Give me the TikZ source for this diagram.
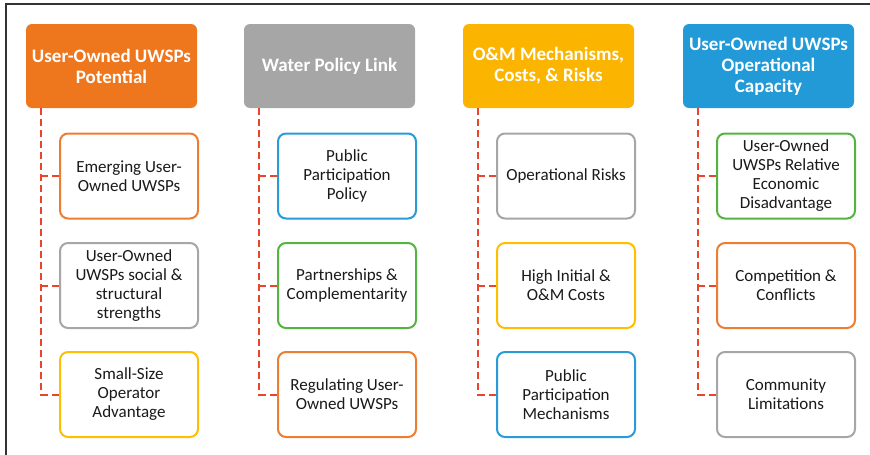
\documentclass[tikz,border=0pt]{standalone}
\usepackage{fontspec}
\setmainfont{Carlito}
\usetikzlibrary{calc}

\definecolor{cOrange}{HTML}{EE761C}
\definecolor{cOrangeLine}{HTML}{ED7D31}
\definecolor{cGray}{HTML}{A6A6A6}
\definecolor{cGold}{HTML}{FBB400}
\definecolor{cGoldLine}{HTML}{FFBE00}
\definecolor{cBlue}{HTML}{229AD8}
\definecolor{cBlueLine}{HTML}{2A9AD8}
\definecolor{cGreen}{HTML}{55B440}
\definecolor{cLink}{HTML}{E8462A}
\definecolor{cFrame}{HTML}{333333}
\definecolor{cText}{HTML}{1A1A1A}

\tikzset{
  header/.style={rectangle, rounded corners=6pt, draw=none, fill=#1,
    minimum width=171pt, minimum height=84pt, inner sep=0pt,
    text=white, align=center,
    font=\fontsize{19}{21}\selectfont\bfseries},
  item/.style={rectangle, rounded corners=8pt, draw=#1, line width=2pt,
    fill=white, minimum width=138pt, minimum height=85pt, inner sep=0pt,
    text=cText, align=center,
    font=\fontsize{17}{19}\selectfont},
  link/.style={draw=cLink, line width=2pt, dash pattern=on 7pt off 4pt},
  frame/.style={draw=cFrame, line width=1.5pt}
}

\begin{document}
\begin{tikzpicture}[x=1pt, y=-1pt]
  \useasboundingbox (0,0) rectangle (870,455);

  % outer frame (left and top edges)
  \draw[frame] (6,455) -- (6,4) -- (870,4);

  % column headers
  \node[header=cOrange] (h1) at (111.5,66) {User-Owned UWSPs\\Potential};
  \node[header=cGray]   (h2) at (329.5,66) {Water Policy Link};
  \node[header=cGold]   (h3) at (548.5,66) {O\&M Mechanisms,\\Costs, \& Risks};
  \node[header=cBlue]   (h4) at (768.5,66) {User-Owned UWSPs\\Operational\\Capacity};

  % column 1 items
  \node[item=cOrangeLine] (a1) at (129,176)   {Emerging User-\\Owned UWSPs};
  \node[item=cGray]       (a2) at (129,285.5) {User-Owned\\UWSPs social \&\\structural\\strengths};
  \node[item=cGoldLine]   (a3) at (129,394.5) {Small-Size\\Operator\\Advantage};

  % column 2 items
  \node[item=cBlueLine]   (b1) at (347,176)   {Public\\Participation\\Policy};
  \node[item=cGreen]      (b2) at (347,285.5) {Partnerships \&\\Complementarity};
  \node[item=cOrangeLine] (b3) at (347,394.5) {Regulating User-\\Owned UWSPs};

  % column 3 items
  \node[item=cGray]       (c1) at (566,176)   {Operational Risks};
  \node[item=cGoldLine]   (c2) at (566,285.5) {High Initial \&\\O\&M Costs};
  \node[item=cBlueLine]   (c3) at (566,394.5) {Public\\Participation\\Mechanisms};

  % column 4 items
  \node[item=cGreen]      (d1) at (786,176)   {User-Owned\\UWSPs Relative\\Economic\\Disadvantage};
  \node[item=cOrangeLine] (d2) at (786,285.5) {Competition \&\\Conflicts};
  \node[item=cGray]       (d3) at (786,394.5) {Community\\Limitations};

  % spine start points just below each header
  \coordinate (s1) at ($(h1.south west)+(15,0)$);
  \coordinate (s2) at ($(h2.south west)+(15,0)$);
  \coordinate (s3) at ($(h3.south west)+(15,0)$);
  \coordinate (s4) at ($(h4.south west)+(15,0)$);

  % dashed tree connectors
  \foreach \s/\p in {s1/a, s2/b, s3/c, s4/d} {
    \draw[link] (\s) |- (\p3.west);
    \draw[link] (\s |- \p1.west) -- (\p1.west);
    \draw[link] (\s |- \p2.west) -- (\p2.west);
  }
\end{tikzpicture}
\end{document}
